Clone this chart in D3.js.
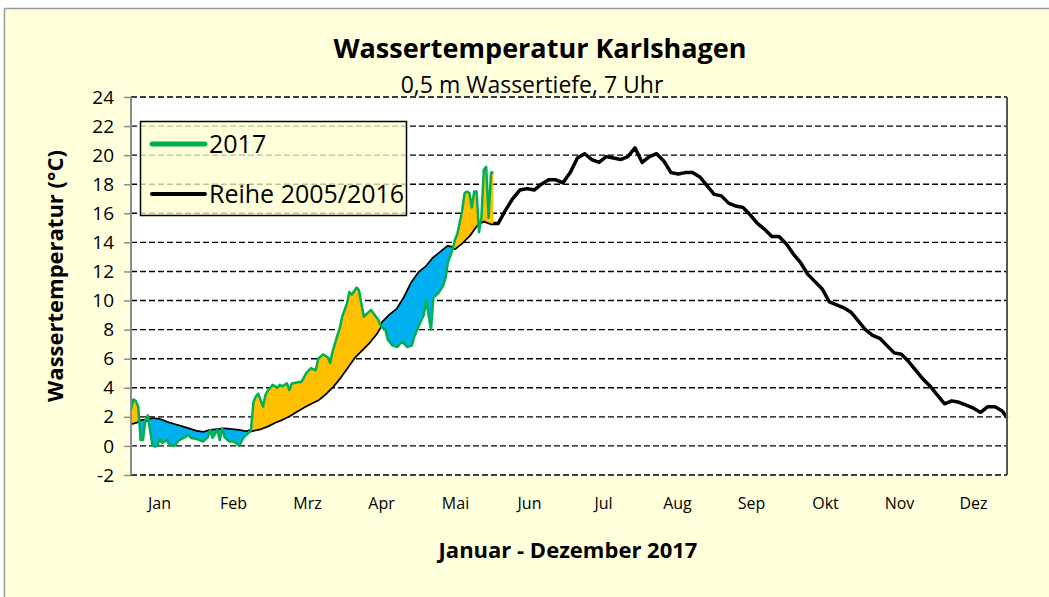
<!DOCTYPE html>
<html>
<head>
<meta charset="utf-8">
<script src="https://cdn.jsdelivr.net/npm/d3@7/dist/d3.min.js"></script>
<style>
  body { margin: 0; background: #fff; }
  text { font-family: "Open Sans", sans-serif; fill: #000; }
</style>
</head>
<body>
<div id="chart"></div>
<script>
// Reihe 2005/2016 (mean), one value every 3 days, last value = 31 Dec
var climValues = [
  1.55, 1.7, 1.75, 1.85, 1.8, 1.6, 1.45, 1.3, 1.15, 1.0,
  0.9, 1.05, 1.1, 1.15, 1.1, 1.05, 0.95, 1.1, 1.2, 1.4,
  1.65, 1.85, 2.1, 2.4, 2.7, 2.95, 3.2, 3.6, 4.1, 4.7,
  5.4, 6.1, 6.6, 7.1, 7.7, 8.5, 9.0, 9.4, 10.2, 11.2,
  11.9, 12.3, 12.9, 13.3, 13.7, 13.6, 14.0, 14.5, 15.2, 15.5,
  15.3, 15.3, 16.2, 17.0, 17.6, 17.7, 17.6, 18.0, 18.3, 18.3,
  18.1, 18.8, 19.8, 20.1, 19.7, 19.5, 19.9, 19.8, 19.7, 19.9,
  20.5, 19.5, 19.9, 20.1, 19.6, 18.8, 18.7, 18.8, 18.8, 18.5,
  17.9, 17.3, 17.2, 16.7, 16.5, 16.4, 15.9, 15.3, 14.9, 14.4,
  14.4, 13.9, 13.2, 12.6, 11.8, 11.3, 10.8, 9.9, 9.7, 9.5,
  9.2, 8.6, 8.0, 7.6, 7.4, 6.9, 6.4, 6.3, 5.8, 5.2,
  4.6, 4.1, 3.5, 2.9, 3.1, 3.0, 2.8, 2.6, 2.3, 2.7,
  2.7, 2.4, 1.95
];

// 2017, day of year (0 = 1 Jan) and temperature
var days2017 = [
  0, 1, 2, 3, 4, 5, 6, 7, 8, 9,
  10, 11, 12, 13, 15, 16, 18, 20, 22, 24,
  25, 27, 30, 32, 33, 34, 36, 37, 38, 39,
  41, 43, 45, 46, 47, 49, 50, 51, 52, 53,
  55, 56, 57, 59, 61, 62, 63, 65, 66, 67,
  70, 71, 73, 75, 77, 78, 80, 82, 83, 84,
  86, 87, 88, 90, 91, 92, 94, 95, 96, 97,
  99, 100, 102, 103, 104, 105, 106, 107, 109, 111,
  113, 115, 117, 118, 120, 122, 123, 125, 126, 128,
  130, 131, 132, 134, 135, 136, 138, 139, 140, 141,
  142, 143, 144, 145, 146, 147, 148, 149, 150, 151
];
var temps2017 = [
  2.5, 3.2, 3.1, 2.7, 0.4, 0.4, 1.8, 2.1, 1.0, 0.0,
  -0.05, 0.0, 0.5, 0.2, 0.4, 0.07, 0.0, 0.4, 0.55, 0.75,
  0.55, 0.5, 0.3, 0.6, 1.1, 0.55, 1.1, 0.4, 1.2, 0.6,
  0.3, 0.3, 0.0, 0.3, 0.6, 0.9, 1.1, 3.0, 3.4, 3.6,
  2.7, 3.5, 3.8, 4.2, 4.0, 4.2, 4.1, 4.3, 3.85, 4.3,
  4.4, 4.4, 5.0, 5.35, 5.2, 6.0, 6.3, 6.1, 5.7, 6.5,
  7.6, 8.1, 8.9, 9.8, 10.6, 10.4, 10.9, 10.7, 9.8, 8.9,
  9.2, 9.35, 8.9, 8.7, 8.3, 8.1, 8.0, 7.3, 6.9, 6.8,
  7.2, 6.8, 6.9, 7.5, 8.3, 9.0, 10.0, 8.0, 10.2, 10.5,
  11.0, 11.5, 12.6, 13.5, 14.2, 14.6, 16.2, 17.4, 17.5, 17.4,
  16.4, 17.5, 17.5, 14.7, 15.7, 19.0, 19.2, 15.7, 18.8, 18.8
];

var months = ["Jan", "Feb", "Mrz", "Apr", "Mai", "Jun", "Jul", "Aug", "Sep", "Okt", "Nov", "Dez"];
var yTicks = [-2, 0, 2, 4, 6, 8, 10, 12, 14, 16, 18, 20, 22, 24];

var W = 1049, H = 597;
var pL = 131, pR = 1007, pT = 97, pB = 475;

var clim = climValues.map(function (v, i) { return { day: Math.min(i * 3, 365), t: v }; });
var y2017 = days2017.map(function (d, i) { return { day: d, t: temps2017[i] }; });

var x = d3.scaleLinear().domain([0, 365]).range([pL, pR]);
var y = d3.scaleLinear().domain([-2, 24]).range([pB, pT]);
var xm = d3.scalePoint().domain(months).range([159, 973]);

var svg = d3.select("#chart").append("svg")
    .attr("width", W)
    .attr("height", H);

// outer frame
svg.append("rect")
    .attr("x", 4.5).attr("y", 8.5)
    .attr("width", W + 10).attr("height", H + 10)
    .attr("fill", "#ffffdc")
    .attr("stroke", "#9a9a9a")
    .attr("stroke-width", 1.5);

// plot area
svg.append("rect")
    .attr("x", pL).attr("y", pT)
    .attr("width", pR - pL).attr("height", pB - pT)
    .attr("fill", "#fff");

var defs = svg.append("defs");
var climAbove = d3.area().x(function (d) { return x(d.day); }).y0(pT - 5).y1(function (d) { return y(d.t); });
var climBelow = d3.area().x(function (d) { return x(d.day); }).y0(function (d) { return y(d.t); }).y1(pB + 5);
defs.append("clipPath").attr("id", "clipAbove").append("path").attr("d", climAbove(clim));
defs.append("clipPath").attr("id", "clipBelow").append("path").attr("d", climBelow(clim));

// gridlines
svg.append("g")
  .selectAll("line")
  .data(yTicks)
  .enter()
  .append("line")
    .attr("x1", pL).attr("x2", pR)
    .attr("y1", function (d) { return y(d); })
    .attr("y2", function (d) { return y(d); })
    .attr("stroke", "#000")
    .attr("stroke-width", 1.4)
    .attr("stroke-dasharray", "6,3");

var line = d3.line()
    .x(function (d) { return x(d.day); })
    .y(function (d) { return y(d.t); });

// long-term mean
svg.append("path")
    .attr("d", line(clim))
    .attr("fill", "none")
    .attr("stroke", "#000")
    .attr("stroke-width", 3.5)
    .attr("stroke-linejoin", "round");

// warmer than mean -> orange, colder -> blue
var areaDown = d3.area().x(function (d) { return x(d.day); }).y0(pB + 5).y1(function (d) { return y(d.t); });
var areaUp = d3.area().x(function (d) { return x(d.day); }).y0(pT - 5).y1(function (d) { return y(d.t); });

svg.append("path")
    .attr("d", areaDown(y2017))
    .attr("fill", "#ffc000")
    .attr("clip-path", "url(#clipAbove)");
svg.append("path")
    .attr("d", areaUp(y2017))
    .attr("fill", "#00b0f0")
    .attr("clip-path", "url(#clipBelow)");

svg.append("path")
    .attr("d", line(y2017))
    .attr("fill", "none")
    .attr("stroke", "#00b050")
    .attr("stroke-width", 2.5)
    .attr("stroke-linejoin", "round");

// axes lines
svg.append("line")
    .attr("x1", pL).attr("x2", pL)
    .attr("y1", pT).attr("y2", pB)
    .attr("stroke", "#8c8c8c").attr("stroke-width", 2);
svg.append("line")
    .attr("x1", pR).attr("x2", pR)
    .attr("y1", pT).attr("y2", pB)
    .attr("stroke", "#555").attr("stroke-width", 2);

var yAxis = d3.axisLeft(y).tickValues(yTicks).tickSize(7).tickPadding(10)
    .tickFormat(function (d) { return String(d); });
var gy = svg.append("g").attr("transform", "translate(" + pL + ",0)").call(yAxis);
gy.select(".domain").remove();
gy.selectAll(".tick line").attr("stroke", "#8c8c8c").attr("stroke-width", 1.5);
gy.selectAll(".tick text").style("font-size", "19px").attr("fill", "#000");

var xAxis = d3.axisBottom(xm).tickSize(0).tickPadding(0);
var gx = svg.append("g").attr("transform", "translate(0,509)").call(xAxis);
gx.select(".domain").remove();
gx.selectAll(".tick text").style("font-size", "16px").attr("dy", 0).attr("fill", "#000");

// legend
var lg = svg.append("g");
lg.append("rect")
    .attr("x", 140.5).attr("y", 121.5)
    .attr("width", 266).attr("height", 94)
    .attr("fill", "#ffffcc").attr("fill-opacity", 0.75)
    .attr("stroke", "#000").attr("stroke-width", 1.5);
lg.append("line").attr("x1", 152).attr("x2", 205).attr("y1", 144).attr("y2", 144)
    .attr("stroke", "#00b050").attr("stroke-width", 5).attr("stroke-linecap", "round");
lg.append("text").attr("x", 209).attr("y", 153).text("2017").style("font-size", "25px");
lg.append("line").attr("x1", 152).attr("x2", 205).attr("y1", 194).attr("y2", 194)
    .attr("stroke", "#000").attr("stroke-width", 4).attr("stroke-linecap", "round");
lg.append("text").attr("x", 209).attr("y", 203).text("Reihe 2005/2016").style("font-size", "25px");

// titles
svg.append("text").attr("x", 540).attr("y", 58).attr("text-anchor", "middle")
    .style("font-size", "27px").style("font-weight", "bold")
    .text("Wassertemperatur Karlshagen");
svg.append("text").attr("x", 532).attr("y", 93).attr("text-anchor", "middle")
    .style("font-size", "23px")
    .text("0,5 m Wassertiefe, 7 Uhr");
svg.append("text").attr("x", 568).attr("y", 558).attr("text-anchor", "middle")
    .style("font-size", "22px").style("font-weight", "bold")
    .text("Januar - Dezember 2017");
svg.append("text")
    .attr("transform", "translate(63,276) rotate(-90)")
    .attr("text-anchor", "middle")
    .style("font-size", "22px").style("font-weight", "bold")
    .text("Wassertemperatur (°C)");
</script>
</body>
</html>
